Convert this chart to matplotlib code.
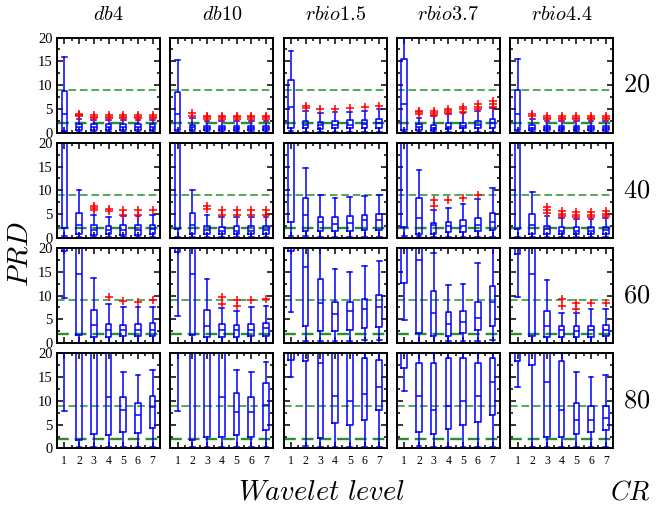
import matplotlib
matplotlib.use('Agg')
import matplotlib.pyplot as plt
from matplotlib.ticker import MultipleLocator

plt.rcParams['mathtext.fontset'] = 'cm'

WAVELETS = [r'$db4$', r'$db10$', r'$rbio1.5$', r'$rbio3.7$', r'$rbio4.4$']
CR_LABELS = ['20', '40', '60', '80']
LEVELS = [1, 2, 3, 4, 5, 6, 7]
THRESHOLDS = [9, 2]

# box statistics, indexed [cr row][wavelet][level]
WHISLO = [
    [[0.1, 0.2, 0.2, 0.2, 0.2, 0.2, 0.2],
     [0.2, 0.2, 0.2, 0.2, 0.2, 0.2, 0.2],
     [0.3, 0.2, 0.2, 0.2, 0.2, 0.2, 0.2],
     [0.1, 0.2, 0.2, 0.2, 0.2, 0.2, 0.2],
     [0.2, 0.2, 0.2, 0.2, 0.2, 0.2, 0.2]],
    [[0.3, 0.1, 0.1, 0.1, 0.1, 0.1, 0.1],
     [0.2, 0.1, 0.1, 0.1, 0.1, 0.1, 0.1],
     [0.3, 0.3, 0.2, 0.2, 0.2, 0.2, 0.2],
     [0.3, 0.3, 0.2, 0.2, 0.2, 0.2, 0.2],
     [0.2, 0.1, 0.1, 0.1, 0.1, 0.1, 0.1]],
    [[9.5, 0.0, 0.0, 0.1, 0.1, 0.1, 0.1],
     [5.7, 0.0, 0.0, 0.1, 0.1, 0.1, 0.1],
     [6.6, 0.35, 0.35, 0.35, 0.35, 0.6, 0.6],
     [4.8, 0.0, 0.0, 0.35, 0.35, 0.35, 0.7],
     [9.7, 0.0, 0.0, 0.1, 0.1, 0.1, 0.1]],
    [[7.9, 0.3, 0.2, 0.2, 0.3, 0.3, 0.3],
     [7.9, 0.3, 0.2, 0.2, 0.3, 0.3, 0.3],
     [15.0, 0.5, 0.3, 0.3, 0.3, 0.3, 0.3],
     [12.0, 0.5, 0.3, 0.3, 0.3, 0.3, 0.3],
     [13.0, 0.3, 0.2, 0.2, 0.3, 0.3, 0.3]],
]
Q1 = [
    [[0.3, 0.6, 0.6, 0.6, 0.6, 0.6, 0.6],
     [0.5, 0.5, 0.5, 0.5, 0.5, 0.5, 0.5],
     [0.9, 0.85, 0.7, 0.9, 0.85, 0.85, 1.05],
     [0.5, 0.5, 0.55, 0.7, 0.85, 0.9, 1.05],
     [0.5, 0.5, 0.5, 0.5, 0.5, 0.5, 0.5]],
    [[2.0, 0.7, 0.6, 0.7, 0.6, 0.6, 0.85],
     [1.8, 0.7, 0.7, 0.7, 0.7, 0.7, 0.8],
     [3.3, 1.4, 1.35, 1.4, 1.4, 1.55, 1.55],
     [2.3, 0.85, 0.9, 1.2, 1.3, 1.4, 1.6],
     [1.8, 0.7, 0.8, 0.8, 0.7, 0.7, 0.8]],
    [[19.4, 1.7, 1.3, 1.3, 1.4, 1.5, 1.6],
     [19.1, 1.7, 1.3, 1.3, 1.3, 1.5, 1.6],
     [19.4, 3.6, 2.5, 2.6, 2.7, 3.1, 3.3],
     [12.7, 2.1, 1.6, 1.6, 2.2, 2.7, 3.6],
     [18.7, 1.6, 1.3, 1.3, 1.3, 1.3, 1.4]],
    [[22.0, 1.8, 3.0, 2.8, 3.5, 3.3, 4.3],
     [22.0, 1.8, 2.4, 2.4, 2.8, 2.4, 3.9],
     [18.6, 18.3, 2.2, 5.3, 4.9, 6.0, 8.0],
     [17.0, 3.5, 3.0, 4.0, 5.0, 5.5, 7.0],
     [18.5, 17.5, 2.3, 2.4, 3.0, 3.5, 3.8]],
]
MED = [
    [[4.0, 1.1, 1.1, 1.1, 1.1, 1.1, 1.1],
     [3.9, 1.1, 1.0, 1.0, 1.0, 1.0, 1.0],
     [5.3, 1.55, 1.5, 1.6, 1.6, 1.75, 1.9],
     [6.1, 1.06, 1.0, 1.2, 1.4, 1.6, 2.0],
     [4.0, 1.0, 0.9, 0.9, 0.9, 0.9, 0.9]],
    [[22, 2.6, 1.55, 1.55, 1.6, 1.6, 1.8],
     [22, 2.6, 1.6, 1.5, 1.5, 1.5, 1.6],
     [22, 4.8, 3.3, 3.0, 3.2, 3.7, 3.7],
     [22, 4.2, 2.6, 2.5, 2.5, 2.8, 3.4],
     [22, 2.6, 1.8, 1.5, 1.5, 1.5, 1.6]],
    [[24, 14.6, 3.8, 2.85, 2.7, 2.85, 2.85],
     [24, 14.45, 3.6, 2.85, 2.7, 2.85, 3.1],
     [24, 16.1, 8.4, 6.1, 6.8, 7.1, 7.7],
     [24, 17.6, 6.3, 4.0, 4.5, 5.3, 8.75],
     [24, 14.45, 3.6, 2.7, 2.6, 2.7, 2.7]],
    [[26, 24, 22, 10.8, 8.1, 7.0, 8.7],
     [26, 24, 22, 10.8, 7.7, 7.7, 9.2],
     [26, 24, 18.0, 11.0, 10.0, 11.5, 13.0],
     [26, 11.0, 8.0, 9.0, 10.0, 11.0, 14.0],
     [26, 24, 14.0, 8.0, 6.0, 6.0, 6.5]],
]
Q3 = [
    [[8.8, 1.8, 1.7, 1.7, 1.7, 1.7, 1.7],
     [8.6, 1.6, 1.4, 1.4, 1.4, 1.4, 1.4],
     [11.1, 2.5, 2.3, 2.5, 2.6, 2.6, 2.8],
     [15.5, 1.8, 1.55, 1.9, 2.1, 2.5, 2.8],
     [9.0, 1.6, 1.3, 1.3, 1.3, 1.3, 1.3]],
    [[26, 5.2, 2.6, 2.5, 2.6, 2.6, 2.6],
     [26, 5.2, 2.5, 2.3, 2.4, 2.4, 2.5],
     [26, 8.3, 4.45, 4.45, 4.6, 4.8, 5.1],
     [26, 8.3, 3.2, 3.3, 3.7, 4.1, 5.2],
     [26, 5.1, 2.5, 2.3, 2.3, 2.3, 2.3]],
    [[28, 24, 7.0, 4.1, 3.9, 4.1, 4.3],
     [28, 24, 7.0, 4.0, 3.9, 4.1, 4.3],
     [28, 24, 13.4, 8.75, 8.6, 9.25, 10.2],
     [28, 24, 11.0, 6.5, 6.8, 8.6, 12.0],
     [28, 24, 6.8, 3.6, 3.6, 3.6, 3.8]],
    [[30, 28, 26, 24, 10.8, 9.6, 11.0],
     [30, 28, 26, 24, 11.7, 10.8, 13.8],
     [30, 28, 26, 24, 24, 19.0, 18.6],
     [30, 18.0, 18.0, 19.0, 19.0, 18.0, 19.0],
     [30, 28, 24, 18.5, 9.5, 9.0, 9.0]],
]
WHISHI = [
    [[16.0, 2.8, 2.6, 2.6, 2.6, 2.6, 2.6],
     [15.2, 3.0, 2.5, 2.5, 2.5, 2.5, 2.5],
     [17.1, 4.6, 4.2, 4.3, 4.3, 4.6, 4.9],
     [21.0, 3.0, 3.4, 3.9, 4.1, 4.6, 5.1],
     [15.5, 2.8, 2.5, 2.5, 2.5, 2.5, 2.5]],
    [[30, 10.0, 4.7, 4.4, 4.5, 4.5, 4.8],
     [30, 10.0, 4.7, 4.3, 4.3, 4.3, 4.3],
     [30, 14.6, 9.0, 8.3, 8.6, 8.7, 9.0],
     [30, 14.3, 5.8, 6.2, 7.1, 8.1, 10.4],
     [30, 9.7, 4.6, 4.2, 3.9, 3.9, 4.2]],
    [[32, 30, 13.7, 8.3, 7.5, 7.5, 7.7],
     [32, 30, 13.4, 7.3, 6.8, 7.7, 7.9],
     [32, 30, 22, 15.7, 15.0, 16.2, 17.3],
     [32, 30, 18.9, 12.3, 12.5, 16.9, 22],
     [32, 30, 13.2, 6.3, 6.3, 7.1, 7.1]],
    [[34, 32, 30, 28, 16.1, 15.5, 16.5],
     [34, 32, 30, 28, 16.5, 16.0, 18.2],
     [34, 32, 30, 28, 28, 28, 26],
     [34, 26, 26, 26, 26, 26, 26],
     [34, 32, 28, 24, 16.0, 15.0, 15.5]],
]
FLIERS = [
    [[[], [3.4, 3.7, 4.0], [3.0, 3.3, 3.6], [3.0, 3.3, 3.6], [3.0, 3.3, 3.6], [3.0, 3.3, 3.6], [3.0, 3.3, 3.6]],
     [[], [3.5, 4.2], [2.9, 3.2, 3.5], [2.9, 3.2, 3.5], [2.9, 3.2, 3.5], [2.9, 3.2, 3.5], [2.9, 3.2, 3.5]],
     [[], [5.2, 5.6], [5.0], [4.9], [5.1], [5.3], [5.5]],
     [[], [4.0, 4.3, 4.6], [3.7, 4.1, 4.6], [4.2, 4.6, 4.9], [4.4, 4.9, 5.3], [4.9, 5.4, 5.9], [5.4, 6.0, 6.6]],
     [[], [3.5, 3.9], [2.8, 3.1, 3.5], [2.8, 3.1, 3.5], [2.8, 3.1, 3.5], [2.8, 3.1, 3.5], [2.8, 3.1, 3.5]]],
    [[[], [], [5.9, 6.3, 6.7], [5.6, 6.1], [4.8, 5.9], [4.8, 5.9], [5.9]],
     [[], [], [6.1, 6.6], [4.8, 5.9], [4.8, 5.9], [4.8, 5.9], [4.8, 5.9]],
     [[], [], [], [], [], [], []],
     [[], [], [6.6, 8.0], [7.9], [8.3], [9.0], []],
     [[], [], [5.3, 5.8, 6.4], [4.6, 5.1, 5.7], [4.4, 4.9, 5.5], [4.4, 4.9, 5.5], [4.6, 5.1, 5.7]]],
    [[[], [], [], [9.7], [8.9], [8.75], [9.0]],
     [[], [], [], [8.2, 9.7], [7.8, 9.1], [9.1], [9.25]],
     [[], [], [], [], [], [], []],
     [[], [], [], [], [], [], []],
     [[], [], [], [7.8, 9.25], [7.1, 8.5], [8.5], [8.5]]],
    [[[], [], [], [], [], [], []],
     [[], [], [], [], [], [], []],
     [[], [], [], [], [], [], []],
     [[], [], [], [], [], [], []],
     [[], [], [], [], [], [], []]],
]

W, H = 656, 509
fig = plt.figure(figsize=(W / 100, H / 100), dpi=100)

left0, colstep, aw = 57, 113.3, 103
top0, rowstep, ah = 37.5, 105.3, 95

blue = '#0000ff'
for r in range(len(CR_LABELS)):
    for c in range(len(WAVELETS)):
        x0 = left0 + c * colstep
        y0 = top0 + r * rowstep
        ax = fig.add_axes([x0 / W, 1 - (y0 + ah) / H, aw / W, ah / H])
        stats = []
        for k in range(len(LEVELS)):
            stats.append(dict(whislo=WHISLO[r][c][k], q1=Q1[r][c][k], med=MED[r][c][k],
                              q3=Q3[r][c][k], whishi=WHISHI[r][c][k],
                              fliers=FLIERS[r][c][k]))
        for yv, lw in zip(THRESHOLDS, [1.1, 1.7]):
            ax.axhline(yv, color='#2a8f2a', ls='--', lw=lw, dashes=(5, 2.5), zorder=1)
        ax.bxp(stats, positions=LEVELS, widths=0.38, capwidths=0.32,
               boxprops=dict(color=blue, lw=1.1),
               whiskerprops=dict(color=blue, lw=1.1),
               capprops=dict(color=blue, lw=1.1),
               medianprops=dict(color=blue, lw=1.1),
               flierprops=dict(marker='+', markeredgecolor='red', markersize=5.5,
                               markeredgewidth=1.1))
        ax.set_xlim(0.5, 7.5)
        ax.set_ylim(0, 20)
        ax.set_xticks(LEVELS)
        ax.xaxis.set_minor_locator(MultipleLocator(0.5))
        ax.yaxis.set_major_locator(MultipleLocator(5))
        ax.yaxis.set_minor_locator(MultipleLocator(2.5))
        ax.tick_params(which='both', direction='in', top=True, right=True)
        ax.tick_params(which='major', length=4.5, width=1.1)
        ax.tick_params(which='minor', length=2.5, width=1.1)
        for sp in ax.spines.values():
            sp.set_linewidth(1.4)
        if r == len(CR_LABELS) - 1:
            ax.set_xticklabels([str(v) for v in LEVELS], fontsize=8.5,
                               family='Liberation Serif')
            ax.tick_params(axis='x', pad=5)
        else:
            ax.set_xticklabels([])
        if c == 0:
            ax.set_yticklabels([f'{int(v)}' for v in ax.get_yticks()], fontsize=10.5,
                               family='Liberation Serif')
            ax.tick_params(axis='y', pad=3)
        else:
            ax.set_yticklabels([])
        if r == 0:
            fig.text((x0 + aw / 2) / W, 1 - 14 / H, WAVELETS[c], fontsize=14.5,
                     ha='center', va='center')
    yc = top0 + r * rowstep + ah / 2
    fig.text(637 / W, 1 - yc / H, '$' + CR_LABELS[r] + '$', fontsize=19,
             ha='center', va='center')

fig.text(20 / W, 1 - 254 / H, r'$PRD$', fontsize=21, rotation=90,
         ha='center', va='center')
fig.text(322 / W, 1 - 492 / H, r'$Wavelet\ level$', fontsize=20.5,
         ha='center', va='center')
fig.text(630 / W, 1 - 492 / H, r'$CR$', fontsize=19, ha='center', va='center')

fig.savefig('out.png', dpi=100)
